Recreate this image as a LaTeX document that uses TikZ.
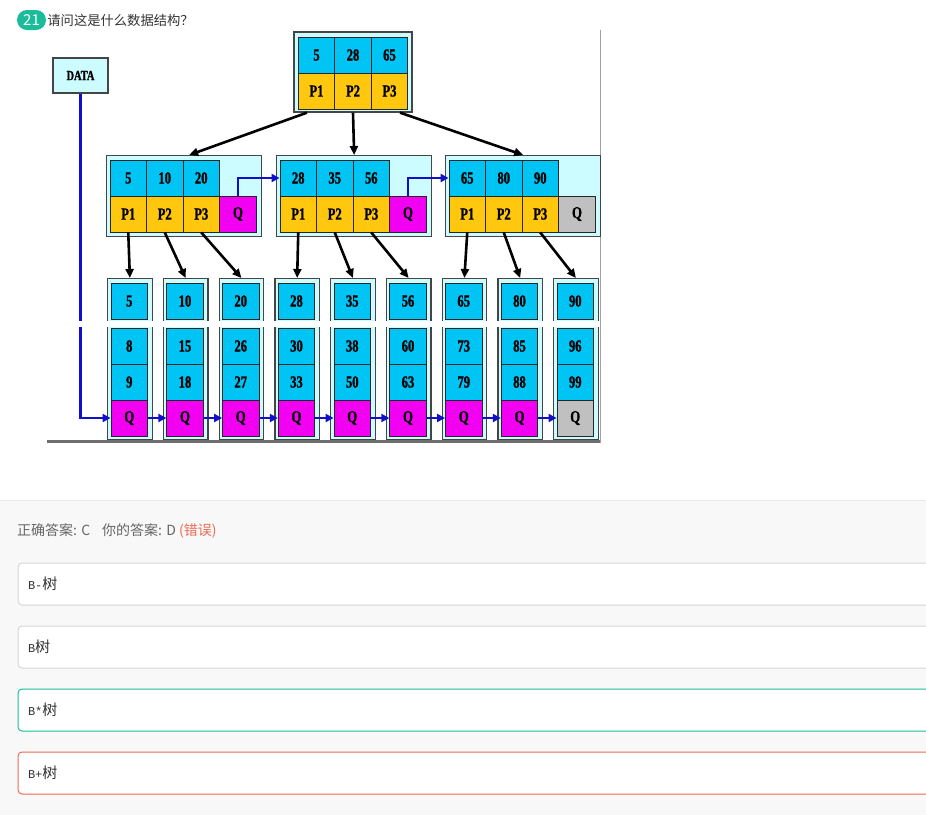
\documentclass[tikz,border=0pt]{standalone}
\usepackage{fontspec}
\usepackage{xcolor}
\usepackage{tikz}
\usetikzlibrary{positioning,calc,arrows.meta}
\newfontfamily\cjk{Noto Sans CJK SC}
\newfontfamily\cellfont[FakeStretch=0.74,FakeBold=1.2]{Liberation Serif Bold}
\newfontfamily\optmono{Liberation Mono}
\definecolor{KeyBlue}{HTML}{00C4F4}
\definecolor{PtrYellow}{HTML}{FFC80E}
\definecolor{QMagenta}{HTML}{F200F2}
\definecolor{QGray}{HTML}{C0C0C0}
\definecolor{FrameCyan}{HTML}{CCFCFF}
\definecolor{FrameGray}{HTML}{454545}
\definecolor{LinkBlue}{HTML}{1010CC}
\definecolor{BadgeTeal}{HTML}{1ABC9C}
\definecolor{RightTeal}{HTML}{1DBE9A}
\definecolor{WrongRed}{HTML}{EE6A55}
\definecolor{OptGray}{HTML}{D6D6D6}
\definecolor{PanelGray}{HTML}{F8F8F8}
\definecolor{PanelLine}{HTML}{EAEAEA}
\definecolor{TextDark}{HTML}{333333}
\definecolor{TextGray}{HTML}{666666}
\definecolor{ImgBottom}{HTML}{6E6E6E}
\definecolor{ImgRight}{HTML}{A0A0A0}

\begin{document}
\begin{tikzpicture}[x=1pt,y=-1pt,
    frame/.style={draw=FrameGray, fill=FrameCyan, line width=1.3pt, inner sep=0pt},
    cell/.style={draw=black!85, line width=0.9pt, minimum width=36.5pt, minimum height=36pt, inner sep=0pt,
      font=\cellfont\fontsize{17}{17}\selectfont},
    keycell/.style={cell, fill=KeyBlue},
    ptrcell/.style={cell, fill=PtrYellow},
    tree/.style={-{Triangle[length=9pt,width=8pt]}, line width=2.6pt},
    link/.style={-{Triangle[length=8pt,width=8pt]}, line width=2.6pt, draw=LinkBlue},
    optbox/.style={fill=white, rounded corners=4pt, line width=1pt, minimum height=42pt, text width=920pt,
      inner xsep=10pt, align=left, text=TextDark}]
  \useasboundingbox (0,0) rectangle (926,815);
  % page and answer panel
  \fill[white] (0,0) rectangle (926,500);
  \fill[PanelGray] (0,500) rectangle (926,815);
  \draw[PanelLine] (0,500.5) -- (926,500.5);

  % question line
  \node[fill=BadgeTeal, rounded corners=10pt, minimum width=29pt, minimum height=20pt, inner sep=0pt,
    text=white, font=\cjk\fontsize{15}{15}\selectfont] (badge) at (31.5,20) {21};
  \node[anchor=west, inner sep=1pt, text=TextDark, font=\cjk\fontsize{13.3}{15}\selectfont] (question) at (badge.east) {请问这是什么数据结构？};

  % picture edges
  \draw[ImgRight, line width=1pt] (600,30) -- (600,443);
  \draw[ImgBottom, line width=2.5pt] (47,441.5) -- (600,441.5);

  % root
  \node[frame, minimum width=118pt, minimum height=80pt] (root) at (353,72) {};
  \foreach \k/\p [count=\i from 0] in {5/P1,28/P2,65/P3} {
    \node[keycell] (rk\i) at (316.5+36.5*\i,55) {\k};
    \node[ptrcell] (rp\i) at (316.5+36.5*\i,91) {\p};
  }

  % inner level
  \foreach \l/\ka/\kb/\kc/\qc [count=\n from 0] in {110/5/10/20/QMagenta, 280/28/35/56/QMagenta, 449/65/80/90/QGray} {
    \node[frame, minimum width=155pt, minimum height=81pt, anchor=north west] (inner\n) at (\l-4,155) {};
    \foreach \k/\p [count=\i from 0] in {\ka/P1,\kb/P2,\kc/P3} {
      \node[keycell] (k\n-\i) at (\l+18.25+36.5*\i,178) {\k};
      \node[ptrcell] (p\n-\i) at (\l+18.25+36.5*\i,214) {\p};
    }
    \node[cell, fill=\qc] (q\n) at (\l+128,214) {Q};
  }

  % leaves
  \foreach \kt/\ka/\kb/\qc [count=\i from 0] in {5/8/9/QMagenta, 10/15/18/QMagenta, 20/26/27/QMagenta,
      28/30/33/QMagenta, 35/38/50/QMagenta, 56/60/63/QMagenta, 65/73/79/QMagenta, 80/85/88/QMagenta, 90/96/99/QGray} {
    \pgfmathsetmacro\lx{111+55.75*\i}
    \node[frame, minimum width=44.5pt, minimum height=161pt, anchor=north west] (leaf\i) at (\lx-4,278) {};
    \node[keycell] (lk\i) at (\lx+18.25,301) {\kt};
    \node[keycell] (la\i) at (\lx+18.25,346) {\ka};
    \node[keycell] (lb\i) at (\lx+18.25,382) {\kb};
    \node[cell, fill=\qc] (lq\i) at (\lx+18.25,418) {Q};
  }

  \node[draw=FrameGray, fill=FrameCyan, line width=1.2pt, minimum width=55pt, minimum height=35pt,
    font=\cellfont\fontsize{14}{14}\selectfont] (data) at (80.5,75.5) {DATA};

  % tree pointers
  \draw[tree] ($(root.south)+(-46,0)$) -- ($(inner0.north)+(5,0)$);
  \draw[tree] (root.south) -- (inner1.north);
  \draw[tree] ($(root.south)+(47,0)$) -- (inner2.north);
  \foreach \n in {0,1,2} \foreach \i in {0,1,2} {
    \pgfmathtruncatemacro\j{3*\n+\i}
    \draw[tree] (p\n-\i.south) -- (leaf\j.north);
  }

  % sibling links
  \draw[link] (q0.north) |- (k1-0.west);
  \draw[link] (q1.north) |- (k2-0.west);
  \draw[link] (data.south) |- (lq0.west);
  \foreach \i [count=\j from 1] in {0,...,7} \draw[link] (lq\i.east) -- (lq\j.west);

  % seam in the scanned picture
  \fill[white] (47,320.5) rectangle (599,326.5);

  % answers
  \node[anchor=west, inner sep=0pt, text=TextGray, font=\cjk\fontsize{14}{16}\selectfont] (answer) at (17,531)
    {正确答案: C\hspace{12pt}你的答案: D \textcolor{WrongRed}{(错误)}};
  \foreach \sym/\col/\y [count=\i] in {-/OptGray/562.5, /OptGray/625.5, */RightTeal/688.5, +/WrongRed/751.5}
    \node[optbox, draw=\col, anchor=north west] (opt\i) at (17.5,\y)
      {\optmono\fontsize{12}{14}\selectfont B\sym\cjk\fontsize{15}{17}\selectfont 树};
\end{tikzpicture}
\end{document}
